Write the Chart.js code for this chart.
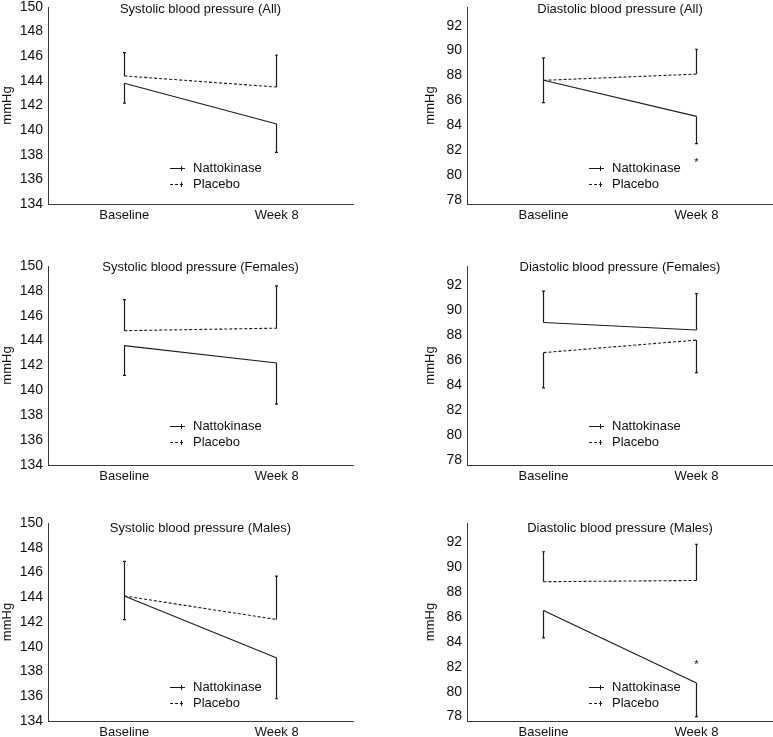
<!DOCTYPE html>
<html><head><meta charset="utf-8">
<script src="https://cdn.jsdelivr.net/npm/chart.js@4"></script>
<style>
html,body{margin:0;padding:0;background:#fff;width:773px;height:737px;overflow:hidden;position:relative}
canvas{position:absolute}
</style></head><body>
<script>
// ---------------- DATA ----------------
const categories = ['Baseline', 'Week 8'];
const seriesNames = ['Nattokinase', 'Placebo'];
const panelTitles = [
  'Systolic blood pressure (All)', 'Diastolic blood pressure (All)',
  'Systolic blood pressure (Females)', 'Diastolic blood pressure (Females)',
  'Systolic blood pressure (Males)', 'Diastolic blood pressure (Males)'
];
const yAxisTitle = 'mmHg';
const systolicTicks = [134, 136, 138, 140, 142, 144, 146, 148, 150];
const diastolicTicks = [78, 80, 82, 84, 86, 88, 90, 92];
const systolicRange = [134, 150];
const diastolicRange = [77.65, 93.5];
const sigMark = '*';

// means and error-bar end values (Baseline, Week 8)
const sysAllNatto = [143.8, 140.5],  sysAllNattoBar = [142.2, 138.2];
const sysAllPlacebo = [144.4, 143.5], sysAllPlaceboBar = [146.3, 146.1];
const diaAllNatto = [87.6, 84.7],    diaAllNattoBar = [85.8, 82.5];
const diaAllPlacebo = [87.6, 88.1],  diaAllPlaceboBar = [89.4, 90.1];
const sysFemNatto = [143.6, 142.2],  sysFemNattoBar = [141.2, 138.9];
const sysFemPlacebo = [144.8, 145.0], sysFemPlaceboBar = [147.3, 148.4];
const diaFemNatto = [89.0, 88.4],    diaFemNattoBar = [91.5, 91.3];
const diaFemPlacebo = [86.6, 87.6],  diaFemPlaceboBar = [83.8, 85.0];
const sysMaleNatto = [144.1, 139.1], sysMaleNattoBar = [142.2, 135.8];
const sysMalePlacebo = [144.1, 142.2], sysMalePlaceboBar = [146.9, 145.7];
const diaMaleNatto = [86.5, 80.7],   diaMaleNattoBar = [84.3, 78.0];
const diaMalePlacebo = [88.8, 88.9], diaMalePlaceboBar = [91.2, 91.8];
// significance marker positions (value), null = none
const noStar = [null, null];
const diaAllStar = [null, 81.2];
const diaMaleStar = [null, 82.4];

// ---------------- LAYOUT / STYLE ----------------
const INK = '#1c1c1c';
const AXIS = '#3a3a3a';
const TXT = '#111111';
const FONT = '"Liberation Sans", Arial, sans-serif';
const colLeft = [0, 419], colWidth = [360, 354], colPadRight = [7, 0], colTitlePad = [0, 4];
const rowTop = [7, 266, 523], rowBottom = [204, 465, 721];
const rowTitleOff = [2.2, 1.2, 5], rowLegendOff = [160.5, 159.7, 164];
const PADTOP = 20, XAXISH = 30, YAXISW = 48;

const panels = [
  {kind: 'sys', n: sysAllNatto, nb: sysAllNattoBar, p: sysAllPlacebo, pb: sysAllPlaceboBar, star: noStar},
  {kind: 'dia', n: diaAllNatto, nb: diaAllNattoBar, p: diaAllPlacebo, pb: diaAllPlaceboBar, star: diaAllStar},
  {kind: 'sys', n: sysFemNatto, nb: sysFemNattoBar, p: sysFemPlacebo, pb: sysFemPlaceboBar, star: noStar},
  {kind: 'dia', n: diaFemNatto, nb: diaFemNattoBar, p: diaFemPlacebo, pb: diaFemPlaceboBar, star: noStar},
  {kind: 'sys', n: sysMaleNatto, nb: sysMaleNattoBar, p: sysMalePlacebo, pb: sysMalePlaceboBar, star: noStar},
  {kind: 'dia', n: diaMaleNatto, nb: diaMaleNattoBar, p: diaMalePlacebo, pb: diaMalePlaceboBar, star: diaMaleStar}
];

const overlay = {
  id: 'overlay',
  afterDatasetsDraw(chart, args, opts) {
    const {ctx, chartArea: a, scales: {x, y}} = chart;
    ctx.save();
    // error bars
    chart.data.datasets.forEach(ds => {
      ds.data.forEach((v, j) => {
        const px = Math.round(x.getPixelForValue(j) - 0.5) + 0.5;
        const py = y.getPixelForValue(v);
        const pe = y.getPixelForValue(ds.barEnds[j]);
        ctx.strokeStyle = INK; ctx.lineWidth = 1.2; ctx.setLineDash([]);
        ctx.beginPath();
        ctx.moveTo(px, py); ctx.lineTo(px, pe);
        ctx.moveTo(px - 1.5, pe); ctx.lineTo(px + 1.5, pe);
        ctx.stroke();
      });
    });
    // significance markers
    ctx.fillStyle = TXT;
    ctx.font = '11px ' + FONT;
    ctx.textAlign = 'center';
    ctx.textBaseline = 'alphabetic';
    opts.star.forEach((v, j) => {
      if (v === null) return;
      ctx.fillText(sigMark, x.getPixelForValue(j), y.getPixelForValue(v) + 6.5);
    });
    // title
    ctx.font = '13px ' + FONT;
    ctx.textBaseline = 'middle';
    ctx.fillText(opts.title, (a.left + a.right) / 2, a.top + opts.titleOff);
    // legend
    const lx = a.left + 122, ly = a.top + opts.legendOff;
    chart.data.datasets.forEach((ds, i) => {
      const yy = Math.round(ly + i * 16) + 0.5;
      ctx.strokeStyle = INK; ctx.lineWidth = 1;
      ctx.setLineDash(ds.borderDash || []);
      ctx.beginPath(); ctx.moveTo(lx, yy); ctx.lineTo(lx + 15, yy); ctx.stroke();
      ctx.setLineDash([]);
      ctx.beginPath(); ctx.moveTo(lx + 11.5, yy - 2.5); ctx.lineTo(lx + 11.5, yy + 2.5); ctx.stroke();
      ctx.textAlign = 'left';
      ctx.fillText(ds.label, lx + 23, yy);
    });
    ctx.restore();
  }
};

panels.forEach((pn, idx) => {
  const col = idx % 2, row = Math.floor(idx / 2);
  const cv = document.createElement('canvas');
  const h = PADTOP + (rowBottom[row] - rowTop[row]) + XAXISH;
  cv.width = colWidth[col]; cv.height = h;
  cv.style.left = colLeft[col] + 'px';
  cv.style.top = (rowTop[row] - PADTOP) + 'px';
  cv.style.width = colWidth[col] + 'px'; cv.style.height = h + 'px';
  document.body.appendChild(cv);
  const isSys = pn.kind === 'sys';
  const range = isSys ? systolicRange : diastolicRange;
  const tickVals = isSys ? systolicTicks : diastolicTicks;
  new Chart(cv, {
    type: 'line',
    data: {
      labels: categories,
      datasets: [
        {label: seriesNames[0], data: pn.n, barEnds: pn.nb, borderColor: INK, borderWidth: 1.1,
         pointRadius: 0, fill: false, tension: 0},
        {label: seriesNames[1], data: pn.p, barEnds: pn.pb, borderColor: INK, borderWidth: 1.1,
         borderDash: [3, 2], pointRadius: 0, fill: false, tension: 0}
      ]
    },
    options: {
      responsive: false, animation: false, devicePixelRatio: 1,
      layout: {padding: {top: PADTOP, right: colPadRight[col], left: 0, bottom: 0}},
      plugins: {
        legend: {display: false}, tooltip: {enabled: false},
        overlay: {title: panelTitles[idx], star: pn.star, titleOff: rowTitleOff[row], legendOff: rowLegendOff[row]}
      },
      scales: {
        x: {
          type: 'category', offset: true,
          grid: {display: false, drawTicks: false},
          border: {display: true, color: AXIS, width: 1},
          ticks: {color: TXT, font: {family: FONT, size: 13}, padding: 4, maxRotation: 0},
          afterFit: s => { s.height = XAXISH; }
        },
        y: {
          min: range[0], max: range[1],
          grid: {display: false, drawTicks: false},
          border: {display: true, color: AXIS, width: 1},
          ticks: {color: TXT, font: {family: FONT, size: 14}, padding: 5},
          afterBuildTicks: s => { s.ticks = tickVals.map(v => ({value: v})); },
          title: {display: true, text: yAxisTitle, color: TXT, font: {family: FONT, size: 13}, padding: {top: colTitlePad[col], bottom: 0}},
          afterFit: s => { s.width = YAXISW; }
        }
      }
    },
    plugins: [overlay]
  });
});
</script>
</body></html>
